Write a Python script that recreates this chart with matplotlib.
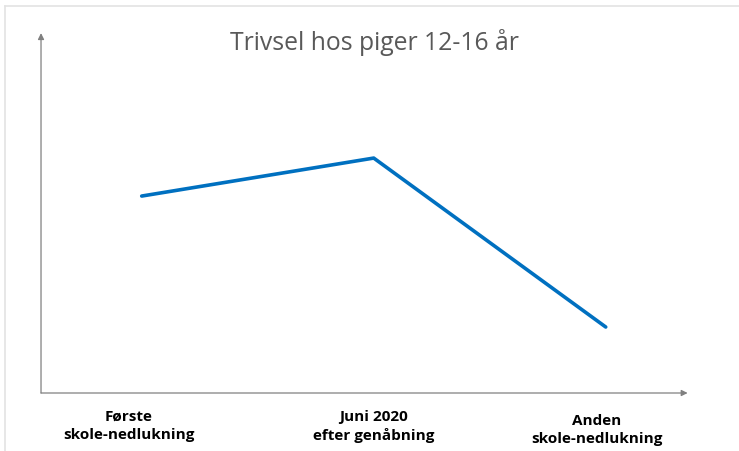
import matplotlib
matplotlib.use("Agg")
import matplotlib.pyplot as plt
import matplotlib.transforms as mtrans
from matplotlib.lines import Line2D
import numpy as np

# ===================== DATA =====================
categories = ["Første\nskole-nedlukning", "Juni 2020\nefter genåbning", "Anden\nskole-nedlukning"]
trivsel = [197, 235, 66]   # (relative units, no scale shown)
TITLE = "Trivsel hos piger 12-16 år"
# ================================================

AXIS_GRAY = "#808080"
LINE_BLUE = "#0070C0"

fig = plt.figure(figsize=(7.39, 4.51), dpi=100)
ax = fig.add_axes([0.0555, 0.1286, 0.875, 0.798])

x = np.arange(len(categories))
ax.plot(x, trivsel, color=LINE_BLUE, linewidth=2.6, solid_capstyle="round",
        solid_joinstyle="round")

ax.set_xlim(-0.434, 2.353)
ax.set_ylim(0, 360)

for s in ax.spines.values():
    s.set_visible(False)
ax.set_yticks([])
ax.set_xticks(x)
ax.set_xticklabels(categories, fontsize=11, fontweight="bold",
                   family="Open Sans", color="black", linespacing=1.38)
ax.tick_params(axis="x", length=0, pad=12)

# labels in the source are not exactly centred under the points
nudges = [(-13, 0), (0, 0), (-9, -4)]   # pixels
for lbl, (dx, dy) in zip(ax.get_xticklabels(), nudges):
    lbl.set_transform(lbl.get_transform() +
                      mtrans.ScaledTranslation(dx / 100, dy / 100, fig.dpi_scale_trans))

# axis arrows
arrow = dict(arrowstyle="-|>", color=AXIS_GRAY, lw=0.9, mutation_scale=9,
             shrinkA=0, shrinkB=0)
ax.annotate("", xy=(0, 1.0), xytext=(0, 0), xycoords="axes fraction",
            arrowprops=arrow)
ax.annotate("", xy=(1.0, 0), xytext=(0, 0), xycoords="axes fraction",
            arrowprops=arrow)

fig.text(0.507, 0.905, TITLE, ha="center", va="center", fontsize=17.8,
         family="Open Sans", color="#595959")

# light frame at top and left like the source screenshot
fig.add_artist(Line2D([0.007, 1.0], [0.986, 0.986], color="#e3e3e3", lw=1.2,
                      transform=fig.transFigure))
fig.add_artist(Line2D([0.007, 0.007], [0.0, 0.986], color="#e3e3e3", lw=1.2,
                      transform=fig.transFigure))

fig.savefig("out.png", dpi=100, facecolor="white")
